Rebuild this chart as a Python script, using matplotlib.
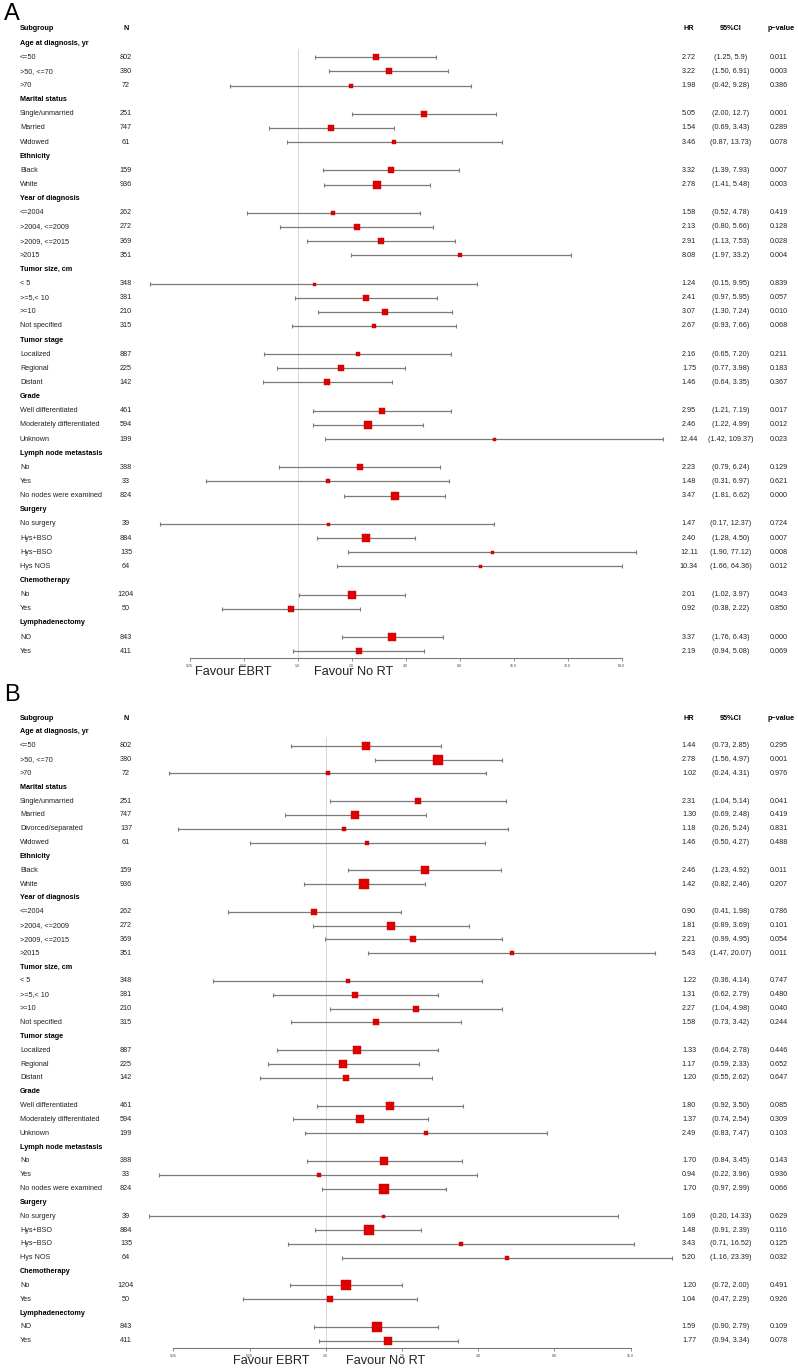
import matplotlib
matplotlib.use('Agg')
import matplotlib.pyplot as plt
import numpy as np
from matplotlib.transforms import blended_transform_factory

plt.rcParams['font.family'] = ['Liberation Sans', 'DejaVu Sans']

W, H = 798, 1368

# ---------------- data: panel A ----------------
labels_A = ["Age at diagnosis, yr", "<=50", ">50, <=70", ">70",
            "Marital status", "Single/unmarried", "Married", "Widowed",
            "Ethnicity", "Black", "White",
            "Year of diagnosis", "<=2004", ">2004, <=2009", ">2009, <=2015", ">2015",
            "Tumor size, cm", "< 5", ">=5,< 10", ">=10", "Not specified",
            "Tumor stage", "Localized", "Regional", "Distant",
            "Grade", "Well differentiated", "Moderately differentiated", "Unknown",
            "Lymph node metastasis", "No", "Yes", "No nodes were examined",
            "Surgery", "No surgery", "Hys+BSO", "Hys\u2212BSO", "Hys NOS",
            "Chemotherapy", "No", "Yes",
            "Lymphadenectomy", "NO", "Yes"]
n_A = [None, "802", "380", "72",
       None, "251", "747", "61",
       None, "159", "936",
       None, "262", "272", "369", "351",
       None, "348", "381", "210", "315",
       None, "887", "225", "142",
       None, "461", "594", "199",
       None, "388", "33", "824",
       None, "39", "884", "135", "64",
       None, "1204", "50",
       None, "843", "411"]
hr_A = [None, "2.72", "3.22", "1.98",
        None, "5.05", "1.54", "3.46",
        None, "3.32", "2.78",
        None, "1.58", "2.13", "2.91", "8.08",
        None, "1.24", "2.41", "3.07", "2.67",
        None, "2.16", "1.75", "1.46",
        None, "2.95", "2.46", "12.44",
        None, "2.23", "1.48", "3.47",
        None, "1.47", "2.40", "12.11", "10.34",
        None, "2.01", "0.92",
        None, "3.37", "2.19"]
lo_A = [None, "1.25", "1.50", "0.42",
        None, "2.00", "0.69", "0.87",
        None, "1.39", "1.41",
        None, "0.52", "0.80", "1.13", "1.97",
        None, "0.15", "0.97", "1.30", "0.93",
        None, "0.65", "0.77", "0.64",
        None, "1.21", "1.22", "1.42",
        None, "0.79", "0.31", "1.81",
        None, "0.17", "1.28", "1.90", "1.66",
        None, "1.02", "0.38",
        None, "1.76", "0.94"]
hi_A = [None, "5.9", "6.91", "9.28",
        None, "12.7", "3.43", "13.73",
        None, "7.93", "5.48",
        None, "4.78", "5.66", "7.53", "33.2",
        None, "9.95", "5.95", "7.24", "7.66",
        None, "7.20", "3.98", "3.35",
        None, "7.19", "4.99", "109.37",
        None, "6.24", "6.97", "6.62",
        None, "12.37", "4.50", "77.12", "64.36",
        None, "3.97", "2.22",
        None, "6.43", "5.08"]
p_A = [None, "0.011", "0.003", "0.386",
       None, "0.001", "0.289", "0.078",
       None, "0.007", "0.003",
       None, "0.419", "0.128", "0.028", "0.004",
       None, "0.839", "0.057", "0.010", "0.068",
       None, "0.211", "0.183", "0.367",
       None, "0.017", "0.012", "0.023",
       None, "0.129", "0.621", "0.000",
       None, "0.724", "0.007", "0.008", "0.012",
       None, "0.043", "0.850",
       None, "0.000", "0.069"]
ticks_A = [0.25, 0.5, 1, 2, 4, 8, 16, 32, 64]
ticklabels_A = ["0.25", "0.50", "1.0", "2.0", "4.0", "8.0", "16.0", "32.0", "64.0"]

# ---------------- data: panel B ----------------
labels_B = ["Age at diagnosis, yr", "<=50", ">50, <=70", ">70",
            "Marital status", "Single/unmarried", "Married", "Divorced/separated", "Widowed",
            "Ethnicity", "Black", "White",
            "Year of diagnosis", "<=2004", ">2004, <=2009", ">2009, <=2015", ">2015",
            "Tumor size, cm", "< 5", ">=5,< 10", ">=10", "Not specified",
            "Tumor stage", "Localized", "Regional", "Distant",
            "Grade", "Well differentiated", "Moderately differentiated", "Unknown",
            "Lymph node metastasis", "No", "Yes", "No nodes were examined",
            "Surgery", "No surgery", "Hys+BSO", "Hys\u2212BSO", "Hys NOS",
            "Chemotherapy", "No", "Yes",
            "Lymphadenectomy", "NO", "Yes"]
n_B = [None, "802", "380", "72",
       None, "251", "747", "137", "61",
       None, "159", "936",
       None, "262", "272", "369", "351",
       None, "348", "381", "210", "315",
       None, "887", "225", "142",
       None, "461", "594", "199",
       None, "388", "33", "824",
       None, "39", "884", "135", "64",
       None, "1204", "50",
       None, "843", "411"]
hr_B = [None, "1.44", "2.78", "1.02",
        None, "2.31", "1.30", "1.18", "1.46",
        None, "2.46", "1.42",
        None, "0.90", "1.81", "2.21", "5.43",
        None, "1.22", "1.31", "2.27", "1.58",
        None, "1.33", "1.17", "1.20",
        None, "1.80", "1.37", "2.49",
        None, "1.70", "0.94", "1.70",
        None, "1.69", "1.48", "3.43", "5.20",
        None, "1.20", "1.04",
        None, "1.59", "1.77"]
lo_B = [None, "0.73", "1.56", "0.24",
        None, "1.04", "0.69", "0.26", "0.50",
        None, "1.23", "0.82",
        None, "0.41", "0.89", "0.99", "1.47",
        None, "0.36", "0.62", "1.04", "0.73",
        None, "0.64", "0.59", "0.55",
        None, "0.92", "0.74", "0.83",
        None, "0.84", "0.22", "0.97",
        None, "0.20", "0.91", "0.71", "1.16",
        None, "0.72", "0.47",
        None, "0.90", "0.94"]
hi_B = [None, "2.85", "4.97", "4.31",
        None, "5.14", "2.48", "5.24", "4.27",
        None, "4.92", "2.46",
        None, "1.98", "3.69", "4.95", "20.07",
        None, "4.14", "2.79", "4.98", "3.42",
        None, "2.78", "2.33", "2.62",
        None, "3.50", "2.54", "7.47",
        None, "3.45", "3.96", "2.99",
        None, "14.33", "2.39", "16.52", "23.39",
        None, "2.00", "2.29",
        None, "2.79", "3.34"]
p_B = [None, "0.295", "0.001", "0.976",
       None, "0.041", "0.419", "0.831", "0.488",
       None, "0.011", "0.207",
       None, "0.786", "0.101", "0.054", "0.011",
       None, "0.747", "0.480", "0.040", "0.244",
       None, "0.446", "0.652", "0.647",
       None, "0.085", "0.309", "0.103",
       None, "0.143", "0.936", "0.066",
       None, "0.629", "0.116", "0.125", "0.032",
       None, "0.491", "0.926",
       None, "0.109", "0.078"]
ticks_B = [0.25, 0.5, 1, 2, 4, 8, 16]
ticklabels_B = ["0.25", "0.50", "1.0", "2.0", "4.0", "8.0", "16.0"]

fig = plt.figure(figsize=(W / 100, H / 100), dpi=100)

GRAY = '#7a7a7a'
RED = '#e00000'
FS = 5.2


def draw_panel(labels, n, hr, lo, hi, p, ticks, ticklabels, letter,
               row0, dy, axis_px, top_px, x1_px, ppd, letter_y,
               fav_y, ebrt_x, nort_x):
    ax = fig.add_axes([0, 1 - axis_px / H, 1, (axis_px - top_px) / H])
    ax.patch.set_visible(False)
    ax.set_xscale('log', base=2)
    ax.set_xlim(2 ** ((0 - x1_px) / ppd), 2 ** ((W - x1_px) / ppd))
    ax.set_ylim((axis_px - row0) / dy, (top_px - row0) / dy)
    for s in ['top', 'left', 'right']:
        ax.spines[s].set_visible(False)
    ax.spines['bottom'].set_bounds(ticks[0], ticks[-1])
    ax.spines['bottom'].set_color(GRAY)
    ax.spines['bottom'].set_linewidth(0.8)
    ax.set_yticks([])
    ax.set_xticks(ticks)
    ax.set_xticklabels(ticklabels)
    ax.xaxis.set_minor_locator(matplotlib.ticker.NullLocator())
    ax.tick_params(axis='x', length=2.5, width=0.6, color=GRAY,
                   labelsize=2.6, pad=1.5, labelcolor='#444444')

    tr = blended_transform_factory(fig.transFigure, ax.transData)

    nrows = len(labels)
    # reference line
    ax.plot([1, 1], [1.4, (axis_px - row0) / dy], color='#d8d8d8', lw=0.7, zorder=1)

    # header
    ax.text(20 / W, 0, "Subgroup", transform=tr, fontsize=FS, fontweight='bold', va='center', ha='left')
    ax.text(126 / W, 0, "N", transform=tr, fontsize=FS, fontweight='bold', va='center', ha='center')
    ax.text(689 / W, 0, "HR", transform=tr, fontsize=FS, fontweight='bold', va='center', ha='center')
    ax.text(731 / W, 0, "95%CI", transform=tr, fontsize=FS, fontweight='bold', va='center', ha='center')
    ax.text(768 / W, 0, "p\u2212value", transform=tr, fontsize=FS, fontweight='bold', va='center', ha='left')

    for i in range(nrows):
        y = i + 1
        if n[i] is None:
            ax.text(20 / W, y, labels[i], transform=tr, fontsize=FS, fontweight='bold',
                    va='center', ha='left')
            continue
        ax.text(20 / W, y, labels[i], transform=tr, fontsize=FS, va='center', ha='left', color='#222222')
        ax.text(126 / W, y, n[i], transform=tr, fontsize=FS, va='center', ha='center', color='#222222')
        ax.text(689 / W, y, hr[i], transform=tr, fontsize=FS, va='center', ha='center', color='#222222')
        ax.text(731 / W, y, "(%s, %s)" % (lo[i], hi[i]), transform=tr, fontsize=FS,
                va='center', ha='center', color='#222222')
        ax.text(770 / W, y, p[i], transform=tr, fontsize=FS, va='center', ha='left', color='#222222')

        h, l, u = float(hr[i]), float(lo[i]), float(hi[i])
        ax.plot([l, u], [y, y], color=GRAY, lw=0.9, zorder=2, solid_capstyle='butt')
        ax.plot([l, u], [y, y], ls='none', marker='|', ms=3.0, mew=0.8, color=GRAY, zorder=2)
        side_px = min(9.5, max(3.0, 10.5 / np.log(u / l)))
        ax.plot([h], [y], ls='none', marker='s', ms=side_px * 0.72, mew=0.3,
                mfc=RED, mec='#c00000', zorder=3)

    fig.text(4 / W, 1 - letter_y / H, letter, fontsize=17, va='center', ha='left')
    fig.text(ebrt_x / W, 1 - fav_y / H, "Favour EBRT", fontsize=9.2, va='center', ha='left', color='#222222')
    fig.text(nort_x / W, 1 - fav_y / H, "Favour No RT", fontsize=9.2, va='center', ha='left', color='#222222')
    return ax


draw_panel(labels_A, n_A, hr_A, lo_A, hi_A, p_A, ticks_A, ticklabels_A, "A",
           row0=29.0, dy=14.14, axis_px=658.0, top_px=15.0, x1_px=297.7, ppd=54.0,
           letter_y=14.5, fav_y=672.0, ebrt_x=195.0, nort_x=314.0)
draw_panel(labels_B, n_B, hr_B, lo_B, hi_B, p_B, ticks_B, ticklabels_B, "B",
           row0=718.0, dy=13.84, axis_px=1348.0, top_px=704.0, x1_px=325.7, ppd=76.2,
           letter_y=695.0, fav_y=1361.0, ebrt_x=233.0, nort_x=346.0)

fig.savefig('out.png', dpi=100)
